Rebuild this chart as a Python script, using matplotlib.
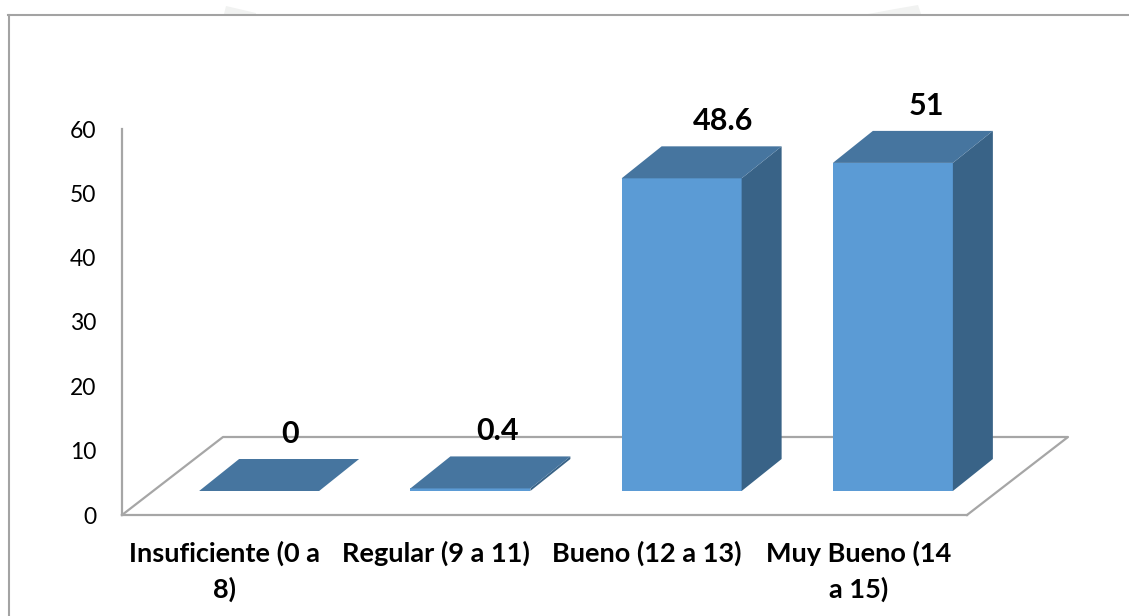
from matplotlib import pyplot as plt
from matplotlib.patches import Polygon, Rectangle
from matplotlib.transforms import ScaledTranslation

# values
categories = ["Insuficiente (0 a\n8)", "Regular (9 a 11)", "Bueno (12 a 13)", "Muy Bueno (14\na 15)"]
values = [0, 0.4, 48.6, 51]
value_labels = ["0", "0.4", "48.6", "51"]
y_ticks = [0, 10, 20, 30, 40, 50, 60]

plt.rcParams['font.family'] = ['Lato', 'DejaVu Sans']

W, H = 1129, 616
LEFT, RIGHT, TOP, BOTTOM = 122, 967, 129, 515

FRONT = "#5b9bd5"
TOP_FACE = "#46759f"
SIDE = "#396387"
GRID = "#a6a6a6"

fig = plt.figure(figsize=(W / 100, H / 100), dpi=100)
ax = fig.add_axes([LEFT / W, 1 - BOTTOM / H, (RIGHT - LEFT) / W, (BOTTOM - TOP) / H])
ax.set_xlim(0, len(categories))
ax.set_ylim(0, 60)
ax.patch.set_visible(False)

# pixels to data units, the fake 3D offsets are easier to think about in pixels
px_x = len(categories) / (RIGHT - LEFT)
px_y = 60 / (BOTTOM - TOP)

# outer frame of the pasted chart, runs off the right and bottom of the image
fig.add_artist(plt.Line2D([8.5 / W, 8.5 / W], [0, 1 - 15 / H], color="#a3a3a3", lw=1.5))
fig.add_artist(plt.Line2D([8 / W, 1], [1 - 15 / H, 1 - 15 / H], color="#a3a3a3", lw=1.5))

# faint smudges above the frame
fig.add_artist(Polygon([(224 / W, 1 - 14 / H), (226 / W, 1 - 6 / H), (256 / W, 1 - 13 / H), (256 / W, 1 - 14 / H)],
                       closed=True, transform=fig.transFigure, fc="#f1f2f1", ec="none"))
fig.add_artist(Polygon([(868 / W, 1 - 14 / H), (895 / W, 1 - 9 / H), (918 / W, 1 - 5 / H), (921 / W, 1 - 14 / H)],
                       closed=True, transform=fig.transFigure, fc="#f1f2f1", ec="none"))

# floor
depth_x, depth_y = 101 * px_x, 78 * px_y
n = len(categories)
ax.plot([0, depth_x, n + depth_x, n], [0, depth_y, depth_y, 0], color=GRID, lw=1.6, clip_on=False, zorder=1)

# axes
for s in ["top", "right"]:
    ax.spines[s].set_visible(False)
for s in ["left", "bottom"]:
    ax.spines[s].set_color(GRID)
    ax.spines[s].set_linewidth(1.6)
    ax.spines[s].set_zorder(1)

ax.set_yticks(y_ticks)
ax.tick_params(axis="y", length=0, pad=18.5, labelsize=16.5, labelcolor="black")
ax.set_xticks([i + 0.5 for i in range(n)])
ax.set_xticklabels(categories, fontsize=19.5, fontweight="bold", linespacing=1.48)
ax.tick_params(axis="x", length=0, pad=18.5)
# labels sit a little left of the category centre
for lab in ax.get_xticklabels():
    lab.set_transform(lab.get_transform() + ScaledTranslation(-3 / 100, 0, fig.dpi_scale_trans))

# bars
bar_w = 120 * px_x
shift_x, shift_y = 31.5 * px_x, 24 * px_y
top_x, top_y = 40 * px_x, 32 * px_y
label_nudge = [-4, -8, 6, -1]

for i, v in enumerate(values):
    x0 = i + 0.5 - bar_w / 2 + shift_x
    x1 = x0 + bar_w
    y0 = shift_y
    y1 = y0 + v
    ax.add_patch(Rectangle((x0, y0), bar_w, v, fc=FRONT, ec="none", zorder=3, clip_on=False))
    ax.add_patch(Polygon([(x1, y0), (x1 + top_x, y0 + top_y), (x1 + top_x, y1 + top_y), (x1, y1)],
                         closed=True, fc=SIDE, ec="none", zorder=3, clip_on=False))
    ax.add_patch(Polygon([(x0, y1), (x1, y1), (x1 + top_x, y1 + top_y), (x0 + top_x, y1 + top_y)],
                         closed=True, fc=TOP_FACE, ec="none", zorder=4, clip_on=False))
    ax.annotate(value_labels[i], ((x0 + x1) / 2, y1), xytext=((35 + label_nudge[i]) * 0.72, 57 * 0.72),
                textcoords="offset points", ha="center", va="center",
                fontsize=22, fontweight="bold", zorder=5, annotation_clip=False)

fig.savefig("out.png", dpi=100, facecolor="white")
